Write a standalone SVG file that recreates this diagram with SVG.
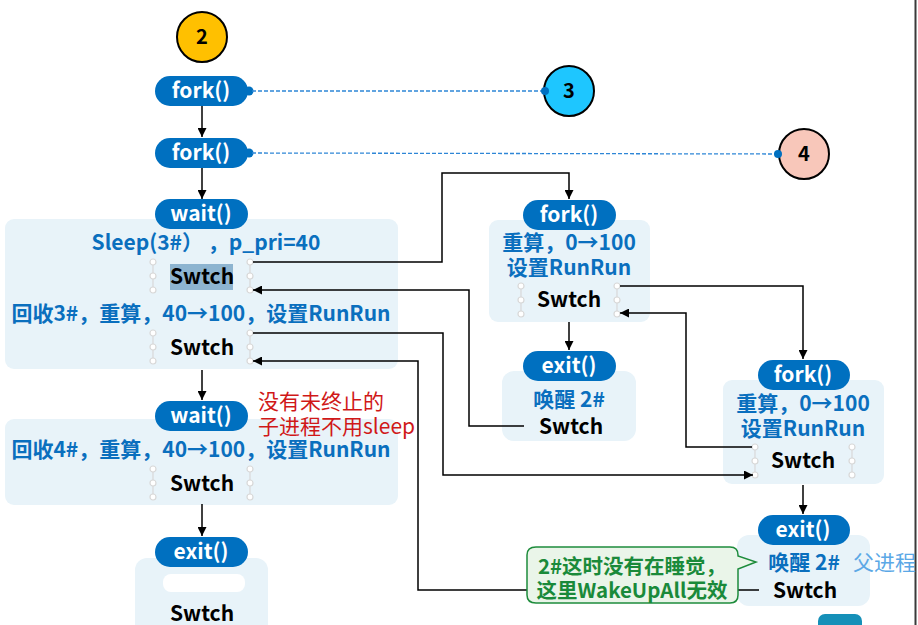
<svg xmlns="http://www.w3.org/2000/svg" width="918" height="625" viewBox="0 0 918 625">
<style>
text{font-family:"Noto Sans CJK SC","Noto Sans",sans-serif;font-weight:bold;text-anchor:middle}
.pill{fill:#0070C0}
.pt{fill:#fff;font-size:21px}
.box{fill:#E8F3F9}
.bt{fill:#0A6FBE;font-size:21px}
.sw{fill:#000;font-size:21px}
.h{fill:#fff;stroke:#d8d8d8;stroke-width:1.2}
.hl{stroke:#d8d8d8;stroke-width:1.2}
.c{fill:none;stroke:#000;stroke-width:1.5}
.d{fill:none;stroke:#2E86D6;stroke-width:1.3;stroke-dasharray:4 2}
.circ{stroke:#000;stroke-width:2}
.ct{fill:#000;font-size:20px}
.red{font-weight:normal;text-anchor:start;fill:#D01818;font-size:21px}
.gt{fill:#1A8A3A;font-size:20.5px}
</style>
<defs>
<marker id="ah" viewBox="0 0 10 10" refX="10" refY="5" markerWidth="9" markerHeight="9" markerUnits="userSpaceOnUse" orient="auto"><path d="M0,0L10,5L0,10z" fill="#000"/></marker>
<g id="hd"><line class="hl" x1="0" y1="0" x2="0" y2="28"/><circle class="h" cx="0" cy="0" r="3"/><circle class="h" cx="0" cy="14" r="3"/><circle class="h" cx="0" cy="28" r="3"/></g>
</defs>
<rect x="0" y="0" width="918" height="625" fill="#fff"/>
<line x1="915.5" y1="0" x2="915.5" y2="625" stroke="#3a3a3a" stroke-width="2"/>
<rect x="818" y="614" width="44" height="20" rx="7" fill="#1590B8"/>

<g id="n2"><circle class="circ" cx="202" cy="37" r="25" fill="#FFC000"/><text class="ct" x="202" y="44">2</text></g>
<g id="n3"><circle class="circ" cx="569" cy="91" r="25" fill="#1EC6FF"/><text class="ct" x="569" y="98">3</text></g>
<g id="n4"><circle class="circ" cx="804" cy="154" r="25" fill="#F8C7BA"/><text class="ct" x="804" y="161">4</text></g>

<g id="fork1"><rect class="pill" x="155" y="76" width="93" height="30" rx="15"/><circle class="pill" cx="249" cy="91" r="4.5"/><text class="pt" x="201" y="98">fork()</text></g>
<g id="fork2"><rect class="pill" x="155" y="138" width="93" height="30" rx="15"/><circle class="pill" cx="249" cy="153" r="4.5"/><text class="pt" x="201" y="160">fork()</text></g>

<g id="wait1">
<rect class="box" x="5" y="219" width="393" height="150" rx="9"/>
<rect class="pill" x="155" y="199" width="93" height="30" rx="15"/><text class="pt" x="201" y="221">wait()</text>
<text class="bt" x="206" y="250">Sleep(3#）  ，p_pri=40</text>
<rect x="170" y="264" width="63" height="26" fill="#8DB4D0"/>
<text class="sw" x="202" y="284">Swtch</text>
<use href="#hd" x="153" y="262"/><use href="#hd" x="250" y="262"/>
<text class="bt" x="201" y="321">回收3#，重算，40→100，设置RunRun</text>
<text class="sw" x="202" y="355">Swtch</text>
<use href="#hd" x="153" y="333"/><use href="#hd" x="250" y="333"/>
</g>

<g id="wait2">
<rect class="box" x="5" y="419" width="393" height="86" rx="9"/>
<rect class="pill" x="155" y="401" width="93" height="30" rx="15"/><text class="pt" x="201" y="423">wait()</text>
<text class="bt" x="201" y="457">回收4#，重算，40→100，设置RunRun</text>
<text class="sw" x="202" y="491">Swtch</text>
<use href="#hd" x="153" y="469"/><use href="#hd" x="250" y="469"/>
</g>

<g id="note1">
<text class="red" x="258" y="409">没有未终止的</text>
<text class="red" x="258" y="434">子进程不用sleep</text>
</g>

<g id="exit1">
<rect class="box" x="135" y="558" width="133" height="80" rx="12"/>
<rect class="pill" x="155" y="537" width="93" height="30" rx="15"/><text class="pt" x="201" y="559">exit()</text>
<rect x="163" y="574" width="82" height="18" rx="8" fill="#fff"/>
<text class="sw" x="202" y="621">Swtch</text>
</g>

<g id="fork3">
<rect class="box" x="489" y="220" width="161" height="102" rx="9"/>
<rect class="pill" x="523" y="200" width="93" height="30" rx="15"/><text class="pt" x="569" y="222">fork()</text>
<text class="bt" x="569" y="250">重算，0→100</text>
<text class="bt" x="569" y="275">设置RunRun</text>
<text class="sw" x="569" y="307">Swtch</text>
<use href="#hd" x="521" y="286"/><use href="#hd" x="617" y="286"/>
</g>

<g id="exit3">
<rect class="box" x="502" y="371" width="134" height="70" rx="12"/>
<rect class="pill" x="523" y="351" width="93" height="30" rx="15"/><text class="pt" x="569" y="373">exit()</text>
<text class="bt" x="569" y="407">唤醒 2#</text>
<text class="sw" x="571" y="434">Swtch</text>
</g>

<g id="fork4">
<rect class="box" x="723" y="380" width="161" height="104" rx="9"/>
<rect class="pill" x="758" y="360" width="92" height="30" rx="15"/><text class="pt" x="803" y="382">fork()</text>
<text class="bt" x="803" y="411">重算，0→100</text>
<text class="bt" x="803" y="436">设置RunRun</text>
<text class="sw" x="803" y="468">Swtch</text>
<use href="#hd" x="755" y="447"/><use href="#hd" x="852" y="447"/>
</g>

<g id="exit4">
<rect class="box" x="737" y="535" width="133" height="71" rx="12"/>
<rect class="pill" x="758" y="515" width="92" height="30" rx="15"/><text class="pt" x="803" y="537">exit()</text>
<text class="bt" x="804" y="570">唤醒 2#</text>
<text class="sw" x="805" y="598">Swtch</text>
<text x="853" y="570" style="font-weight:normal;text-anchor:start;fill:#5BA8E6;font-size:21px">父进程</text>
</g>

<g id="connectors">
<line class="d" x1="252" y1="91" x2="545" y2="91"/><circle cx="545" cy="91" r="4" fill="#0070C0"/>
<line class="d" x1="252" y1="153" x2="778" y2="154"/><circle cx="778" cy="154" r="4" fill="#0070C0"/>
<line class="c" x1="202" y1="106" x2="202" y2="137" marker-end="url(#ah)"/>
<line class="c" x1="202" y1="168" x2="202" y2="199" marker-end="url(#ah)"/>
<line class="c" x1="202" y1="370" x2="202" y2="400" marker-end="url(#ah)"/>
<line class="c" x1="202" y1="504" x2="202" y2="536" marker-end="url(#ah)"/>
<line class="c" x1="569" y1="322" x2="569" y2="350" marker-end="url(#ah)"/>
<line class="c" x1="803" y1="485" x2="803" y2="514" marker-end="url(#ah)"/>
<polyline class="c" points="253,262 442,262 442,173 569,173 569,199" marker-end="url(#ah)"/>
<polyline class="c" points="524,426 469,426 469,290 253,290" marker-end="url(#ah)"/>
<polyline class="c" points="253,333 443,333 443,475 753,475" marker-end="url(#ah)"/>
<polyline class="c" points="759,590 418,590 418,361 253,361" marker-end="url(#ah)"/>
<polyline class="c" points="620,286 803,286 803,359" marker-end="url(#ah)"/>
<polyline class="c" points="752,447 686,447 686,313 620,313" marker-end="url(#ah)"/>
</g>

<g id="callout">
<path d="M536,547 H730 Q738,547 738,555 V556 L756,562 L738,569 V595 Q738,603 730,603 H536 Q527,603 527,595 V555 Q527,547 536,547 Z" fill="#EAF5E9" stroke="#1E8C3C" stroke-width="1.5"/>
<text class="gt" x="632" y="574">2#这时没有在睡觉，</text>
<text class="gt" x="632" y="598">这里WakeUpAll无效</text>
</g>
</svg>
